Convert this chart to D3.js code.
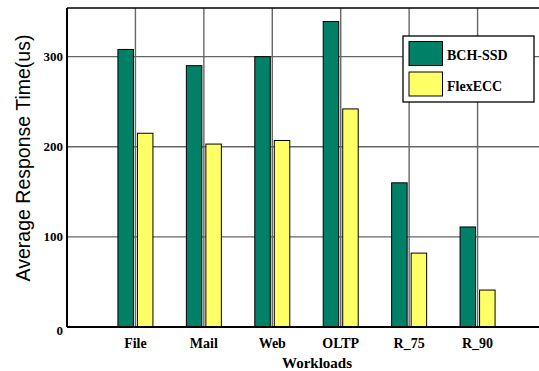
<!DOCTYPE html>
<html>
<head>
<meta charset="utf-8">
<script src="https://cdn.jsdelivr.net/npm/d3@7"></script>
<style>
  body { margin: 0; background: #fff; }
  svg { display: block; }
</style>
</head>
<body>
<script>
var workloads = ["File", "Mail", "Web", "OLTP", "R_75", "R_90"];
var bchSsd = [308, 290, 300, 339, 160, 111];
var flexEcc = [215, 203, 207, 242, 82, 41];
var seriesNames = ["BCH-SSD", "FlexECC"];
var seriesColors = ["#008066", "#ffff66"];
var yTicks = [0, 100, 200, 300];

var width = 539, height = 371;
var plotLeft = 67, plotTop = 8, plotBottom = 327, plotRight = 546;
var serif = "Liberation Serif, Times New Roman, serif";

var svg = d3.select("body").append("svg")
    .attr("width", width)
    .attr("height", height);

var x = d3.scaleLinear().domain([0, workloads.length + 1]).range([plotLeft, plotRight]);
var y = d3.scaleLinear().domain([0, 354]).range([plotBottom, plotTop]);

// grid
svg.append("g").selectAll("line")
    .data(yTicks.slice(1))
    .enter().append("line")
    .attr("x1", plotLeft).attr("x2", plotRight)
    .attr("y1", function (d) { return y(d); })
    .attr("y2", function (d) { return y(d); })
    .attr("stroke", "#666").attr("stroke-width", 1.4);

svg.append("g").selectAll("line")
    .data(d3.range(1, workloads.length + 1))
    .enter().append("line")
    .attr("x1", function (d) { return x(d); })
    .attr("x2", function (d) { return x(d); })
    .attr("y1", plotTop).attr("y2", plotBottom)
    .attr("stroke", "#666").attr("stroke-width", 1.4);

// bars
var barW = 15.5, gap = 2;
var groups = [bchSsd, flexEcc];
groups.forEach(function (vals, s) {
  svg.append("g").selectAll("rect")
      .data(vals)
      .enter().append("rect")
      .attr("x", function (d, i) {
        return s === 0 ? x(i + 1) - gap - barW : x(i + 1) + gap;
      })
      .attr("y", function (d) { return y(d); })
      .attr("width", barW)
      .attr("height", function (d) { return y(0) - y(d); })
      .attr("fill", seriesColors[s])
      .attr("stroke", "#000").attr("stroke-width", 1);
});

// frame
svg.append("line").attr("x1", plotLeft).attr("x2", plotRight).attr("y1", plotTop).attr("y2", plotTop)
    .attr("stroke", "#000").attr("stroke-width", 1.5);
svg.append("line").attr("x1", plotLeft).attr("x2", plotRight).attr("y1", plotBottom).attr("y2", plotBottom)
    .attr("stroke", "#000").attr("stroke-width", 2);
svg.append("line").attr("x1", plotLeft).attr("x2", plotLeft).attr("y1", plotTop).attr("y2", plotBottom)
    .attr("stroke", "#000").attr("stroke-width", 2);

// y tick labels
svg.append("g").selectAll("text")
    .data(yTicks)
    .enter().append("text")
    .attr("x", plotLeft - 4)
    .attr("y", function (d) { return y(d) + 4.5 + (d === 0 ? 3 : 0); })
    .attr("text-anchor", "end")
    .attr("font-family", serif)
    .attr("font-weight", "bold")
    .attr("font-size", 13)
    .text(function (d) { return d; });

// x labels
svg.append("g").selectAll("text")
    .data(workloads)
    .enter().append("text")
    .attr("x", function (d, i) { return x(i + 1); })
    .attr("y", 348)
    .attr("text-anchor", "middle")
    .attr("font-family", serif)
    .attr("font-weight", "bold")
    .attr("font-size", 14)
    .text(function (d) { return d; });

svg.append("text")
    .attr("x", 317).attr("y", 368)
    .attr("text-anchor", "middle")
    .attr("font-family", serif)
    .attr("font-weight", "bold")
    .attr("font-size", 15)
    .text("Workloads");

svg.append("text")
    .attr("transform", "translate(30,158) rotate(-90)")
    .attr("text-anchor", "middle")
    .attr("font-family", "Liberation Sans, Arial, sans-serif")
    .attr("font-size", 19.5)
    .text("Average Response Time(us)");

// legend
var lg = svg.append("g").attr("transform", "translate(403,36)");
lg.append("rect").attr("width", 131).attr("height", 66)
    .attr("fill", "#fff").attr("stroke", "#000").attr("stroke-width", 1.3);
var items = lg.selectAll("g.item")
    .data(seriesNames)
    .enter().append("g")
    .attr("transform", function (d, i) { return "translate(6," + (5.5 + i * 30.5) + ")"; });
items.append("rect")
    .attr("width", 33.5).attr("height", 24)
    .attr("fill", function (d, i) { return seriesColors[i]; })
    .attr("stroke", "#000").attr("stroke-width", 1);
items.append("text")
    .attr("x", 38).attr("y", 18.5)
    .attr("font-family", serif)
    .attr("font-weight", "bold")
    .attr("font-size", 14)
    .text(function (d) { return d; });
</script>
</body>
</html>
